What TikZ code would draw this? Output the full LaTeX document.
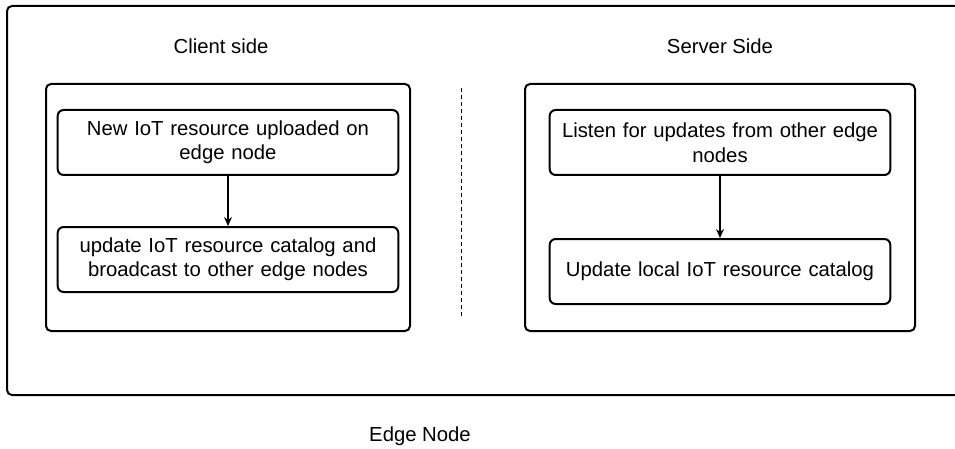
\documentclass[tikz,border=0pt]{standalone}
\usepackage{fontspec}
\setmainfont{Liberation Sans}
\usetikzlibrary{arrows.meta,positioning}

\begin{document}
\begin{tikzpicture}[
  x=1pt, y=-1pt,
  frame/.style={draw, line width=2pt, rounded corners=5pt},
  stepbox/.style={draw, line width=2pt, rounded corners=6pt, minimum width=338pt,
              minimum height=65pt, align=center, text width=334pt,
              font=\fontsize{20.3}{24.5}\selectfont},
  label/.style={font=\fontsize{20.3}{24.5}\selectfont},
  arr/.style={-{Stealth[length=9pt,width=8pt]}, line width=1.1pt}
]
  \useasboundingbox (0,0) rectangle (955,449);
  \begin{scope}
    \clip (0,0) rectangle (955,449);
    \draw[frame] (7,6) rectangle (990,395);
  \end{scope}

  % client side
  \node[label] (cltitle) at (221,46) {Client side};
  \draw[frame] (46,84) rectangle (410,331);
  \node[stepbox] (upload) at (228,142.5) {New IoT resource uploaded on\\edge node};
  \node[stepbox] (bcast)  at (228,259.5) {update IoT resource catalog and\\broadcast to other edge nodes};
  \draw[arr] (upload) -- (bcast);

  % separator
  \coordinate (sepA) at (461,88);
  \coordinate (sepB) at (461,318);
  \draw[dashed, line width=0.8pt, dash pattern=on 4pt off 3pt] (sepA) -- (sepB);

  % server side
  \node[label] (svtitle) at (720,46) {Server Side};
  \draw[frame] (525,84) rectangle (915,331);
  \node[stepbox] (listen) at (720,142.5) {Listen for updates from other edge\\nodes};
  \node[stepbox] (local)  at (720,271.5) {Update local IoT resource catalog};
  \draw[arr] (listen) -- (local);

  \node[label] (edge) at (420,436) {Edge Node};
\end{tikzpicture}
\end{document}
